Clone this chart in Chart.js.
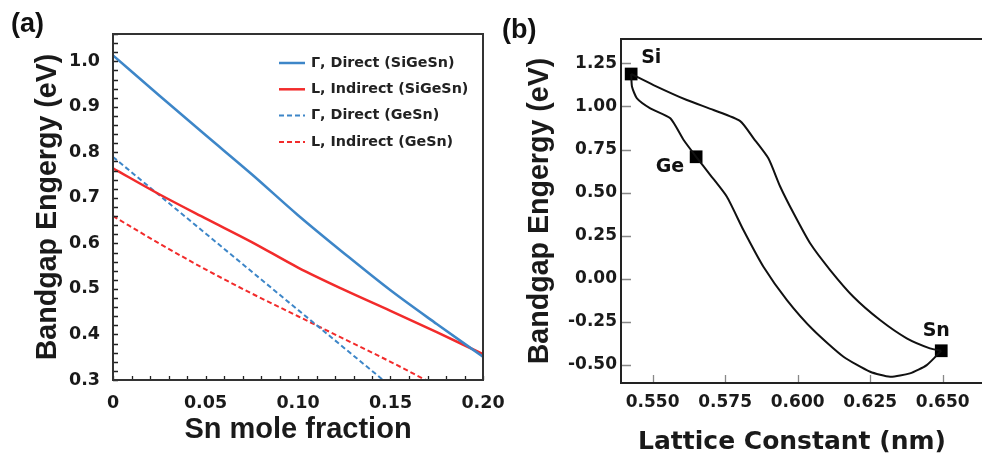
<!DOCTYPE html>
<html>
<head>
<meta charset="utf-8">
<script src="https://cdn.jsdelivr.net/npm/chart.js@4.4.0/dist/chart.umd.min.js"></script>
<style>
  body { margin: 0; background: #fff; overflow: hidden; }
  #wrap { position: relative; width: 982px; height: 457px; overflow: hidden; }
  canvas { position: absolute; top: 0; }
</style>
</head>
<body>
<div id="wrap">
  <canvas id="chartA" width="520" height="457" style="left:0"></canvas>
  <canvas id="chartB" width="482" height="457" style="left:500px"></canvas>
</div>
<script>
// panel (a): bandgap vs Sn mole fraction
let snFrac = [0, 0.025, 0.05, 0.075, 0.10, 0.125, 0.15, 0.175, 0.20];
let gammaSiGeSn = [1.013, 0.925, 0.838, 0.752, 0.662, 0.578, 0.497, 0.423, 0.351];
let lSiGeSn = [0.765, 0.708, 0.655, 0.603, 0.547, 0.498, 0.452, 0.405, 0.357];
let gammaGeSnX = [0, 0.05, 0.10, 0.146];
let gammaGeSn = [0.79, 0.622, 0.454, 0.30];
let lGeSnX = [0, 0.025, 0.05, 0.075, 0.10, 0.125, 0.15, 0.169];
let lGeSn = [0.66, 0.60, 0.543, 0.49, 0.44, 0.39, 0.34, 0.30];
let seriesNames = ['Γ, Direct (SiGeSn)', 'L, Indirect (SiGeSn)', 'Γ, Direct (GeSn)', 'L, Indirect (GeSn)'];
let xTickLabelsA = ['0', '0.05', '0.10', '0.15', '0.20'];
let yTickLabelsA = ['0.3', '0.4', '0.5', '0.6', '0.7', '0.8', '0.9', '1.0'];

// panel (b): bandgap vs lattice constant
let latticeUpper = [0.5426, 0.5503, 0.5618, 0.571, 0.5802, 0.5848, 0.5899, 0.594, 0.5986, 0.6043, 0.6112, 0.6192, 0.6284, 0.6376, 0.6456, 0.6495];
let gapUpper = [1.188, 1.124, 1.037, 0.979, 0.915, 0.815, 0.699, 0.534, 0.38, 0.206, 0.051, -0.104, -0.239, -0.345, -0.403, -0.417];
let latticeLower = [0.5426, 0.5429, 0.5446, 0.5492, 0.5561, 0.5607, 0.565, 0.5699, 0.5756, 0.5813, 0.5882, 0.5963, 0.6054, 0.6158, 0.625, 0.6319, 0.6387, 0.6445, 0.6495];
let gapLower = [1.188, 1.114, 1.047, 0.989, 0.931, 0.805, 0.708, 0.602, 0.476, 0.283, 0.07, -0.123, -0.297, -0.452, -0.539, -0.568, -0.548, -0.5, -0.417];
let elementNames = ['Si', 'Ge', 'Sn'];
let elementLattice = [0.5426, 0.565, 0.6495];
let elementGap = [1.188, 0.708, -0.417];
let xTickLabelsB = ['0.550', '0.575', '0.600', '0.625', '0.650'];
let yTickLabelsB = ['-0.50', '-0.25', '0.00', '0.25', '0.50', '0.75', '1.00', '1.25'];

let BLUE = '#3d86c8', RED = '#f22b2b';
let TICK_FONT = 'DejaVu Sans';
let TITLE_FONT = '"Liberation Sans", Arial, sans-serif';

function pts(xs, ys) { return xs.map((x, i) => ({x: x, y: ys[i]})); }
function pickLabel(list) {
  return v => list.find(l => Math.abs(parseFloat(l) - v) < 1e-6) || '';
}

// box round the plot and little ticks pointing inward
const frame = {
  id: 'frame',
  afterDraw(chart, args, o) {
    const {ctx, chartArea: a, scales} = chart;
    ctx.save();
    ctx.strokeStyle = o.tickColor;
    ctx.lineWidth = 1.3;
    ctx.beginPath();
    const xs = scales.x, ys = scales.y;
    for (let k = Math.ceil(xs.min / o.xStep - 1e-6); k * o.xStep <= xs.max + 1e-9; k++) {
      const px = Math.round(xs.getPixelForValue(k * o.xStep)) + 0.5;
      ctx.moveTo(px, a.bottom); ctx.lineTo(px, a.bottom - o.xLen);
    }
    for (let k = Math.ceil(ys.min / o.yStep - 1e-6); k * o.yStep <= ys.max + 1e-9; k++) {
      const py = Math.round(ys.getPixelForValue(k * o.yStep)) + 0.5;
      ctx.moveTo(a.left, py); ctx.lineTo(a.left + o.yLen, py);
    }
    ctx.stroke();
    ctx.strokeStyle = o.color;
    ctx.lineWidth = o.width;
    ctx.beginPath();
    if (o.open) {
      ctx.moveTo(chart.width, a.top); ctx.lineTo(a.left, a.top);
      ctx.lineTo(a.left, a.bottom); ctx.lineTo(chart.width, a.bottom);
    } else {
      ctx.rect(a.left, a.top, a.right - a.left, a.bottom - a.top);
    }
    ctx.stroke();
    // panel letter
    ctx.fillStyle = '#111';
    ctx.font = 'bold 27px ' + TITLE_FONT;
    ctx.textBaseline = 'middle';
    ctx.fillText(o.panel, o.panelX, o.panelY);
    ctx.restore();
  }
};

const legendA = {
  id: 'legendA',
  afterDraw(chart, args, o) {
    const ctx = chart.ctx;
    ctx.save();
    chart.data.datasets.forEach((ds, i) => {
      const y = o.y + i * o.gap;
      ctx.strokeStyle = ds.borderColor;
      ctx.lineWidth = ds.borderWidth;
      ctx.setLineDash(ds.borderDash || []);
      ctx.beginPath(); ctx.moveTo(o.x, y); ctx.lineTo(o.x + o.len, y); ctx.stroke();
      ctx.setLineDash([]);
      ctx.fillStyle = '#222';
      ctx.font = 'bold 14.3px ' + TICK_FONT;
      ctx.textBaseline = 'middle';
      ctx.fillText(ds.label, o.x + o.len + 6, y);
    });
    ctx.restore();
  }
};

const elementTags = {
  id: 'elementTags',
  afterDraw(chart, args, o) {
    const ctx = chart.ctx;
    const meta = chart.getDatasetMeta(2);
    ctx.save();
    ctx.fillStyle = '#111';
    ctx.font = 'bold 19px ' + TICK_FONT;
    ctx.textBaseline = 'middle';
    elementNames.forEach((name, i) => {
      const p = meta.data[i], off = o.offsets[i];
      ctx.textAlign = off[2];
      ctx.fillText(name, p.x + off[0], p.y + off[1]);
    });
    ctx.restore();
  }
};

const noGrid = {display: false, drawTicks: false};

new Chart(document.getElementById('chartA'), {
  type: 'scatter',
  data: {
    datasets: [
      {label: seriesNames[0], data: pts(snFrac, gammaSiGeSn), borderColor: BLUE, borderWidth: 2.5},
      {label: seriesNames[1], data: pts(snFrac, lSiGeSn), borderColor: RED, borderWidth: 2.5},
      {label: seriesNames[2], data: pts(gammaGeSnX, gammaGeSn), borderColor: BLUE, borderWidth: 2, borderDash: [5, 3]},
      {label: seriesNames[3], data: pts(lGeSnX, lGeSn), borderColor: RED, borderWidth: 2, borderDash: [5, 3]}
    ].map(d => Object.assign(d, {showLine: true, pointRadius: 0, cubicInterpolationMode: 'monotone'}))
  },
  options: {
    responsive: false,
    animation: false,
    devicePixelRatio: 1,
    layout: {padding: {left: 0, top: 34, right: 37, bottom: 0}},
    plugins: {
      legend: {display: false},
      tooltip: {enabled: false},
      frame: {color: '#333', width: 2, tickColor: '#222', xStep: 0.01, xLen: 4, yStep: 0.02, yLen: 5,
              panel: '(a)', panelX: 11, panelY: 25},
      legendA: {x: 279, y: 63, gap: 26.3, len: 26}
    },
    scales: {
      x: {
        type: 'linear', min: 0, max: 0.2,
        grid: noGrid, border: {display: false},
        ticks: {stepSize: 0.05, includeBounds: false, autoSkip: false, maxRotation: 0, padding: 12.5,
                color: '#1a1a1a', font: {family: TICK_FONT, weight: 'bold', size: 17.5},
                callback: pickLabel(xTickLabelsA)},
        title: {display: true, text: 'Sn mole fraction', color: '#1a1a1a', padding: {top: 0, bottom: 9.5},
                font: {family: TITLE_FONT, weight: 'bold', size: 29}},
        afterFit: s => { s.height = 77; }
      },
      y: {
        type: 'linear', min: 0.3, max: 1.06,
        grid: noGrid, border: {display: false},
        ticks: {stepSize: 0.1, includeBounds: false, autoSkip: false, padding: 13,
                color: '#1a1a1a', font: {family: TICK_FONT, weight: 'bold', size: 17.5},
                callback: pickLabel(yTickLabelsA)},
        title: {display: true, text: 'Bandgap Engergy (eV)', color: '#1a1a1a', padding: {top: 30.5, bottom: 0},
                font: {family: TITLE_FONT, weight: 'bold', size: 28.6}},
        afterFit: s => { s.width = 113; }
      }
    }
  },
  plugins: [frame, legendA]
});

new Chart(document.getElementById('chartB'), {
  type: 'scatter',
  data: {
    datasets: [
      {data: pts(latticeUpper, gapUpper), showLine: true, pointRadius: 0, borderColor: '#111', borderWidth: 2, tension: 0.2},
      {data: pts(latticeLower, gapLower), showLine: true, pointRadius: 0, borderColor: '#111', borderWidth: 2, tension: 0.2},
      {data: pts(elementLattice, elementGap), showLine: false, pointStyle: 'rect', pointRadius: 9,
       backgroundColor: '#000', borderColor: '#000', borderWidth: 0}
    ]
  },
  options: {
    responsive: false,
    animation: false,
    devicePixelRatio: 1,
    layout: {padding: {left: 0, top: 39, right: 19, bottom: 0}},
    plugins: {
      legend: {display: false},
      tooltip: {enabled: false},
      frame: {color: '#222', width: 2, tickColor: '#888', xStep: 0.025, xLen: 8, yStep: 0.25, yLen: 10,
              open: true, panel: '(b)', panelX: 2, panelY: 31},
      elementTags: {offsets: [[10, -16, 'left'], [-12, 10, 'right'], [-5, -20, 'center']]}
    },
    scales: {
      x: {
        type: 'linear', min: 0.5391, max: 0.657,
        grid: noGrid, border: {display: false},
        ticks: {stepSize: 0.025, includeBounds: false, autoSkip: false, maxRotation: 0, padding: 9.8,
                color: '#1a1a1a', font: {family: TICK_FONT, weight: 'bold', size: 17},
                callback: pickLabel(xTickLabelsB)},
        title: {display: true, text: 'Lattice Constant (nm)', color: '#1a1a1a', padding: {top: 0, bottom: 0},
                font: {family: TICK_FONT, weight: 'bold', size: 25}},
        afterFit: s => { s.height = 74; }
      },
      y: {
        type: 'linear', min: -0.604, max: 1.391,
        grid: noGrid, border: {display: false},
        ticks: {stepSize: 0.25, includeBounds: false, autoSkip: false, padding: 4,
                color: '#1a1a1a', font: {family: TICK_FONT, weight: 'bold', size: 17},
                callback: pickLabel(yTickLabelsB)},
        title: {display: true, text: 'Bandgap Engergy (eV)', color: '#1a1a1a', padding: {top: 22.8, bottom: 0},
                font: {family: TITLE_FONT, weight: 'bold', size: 28.6}},
        afterFit: s => { s.width = 121; }
      }
    }
  },
  plugins: [frame, elementTags]
});
</script>
</body>
</html>
